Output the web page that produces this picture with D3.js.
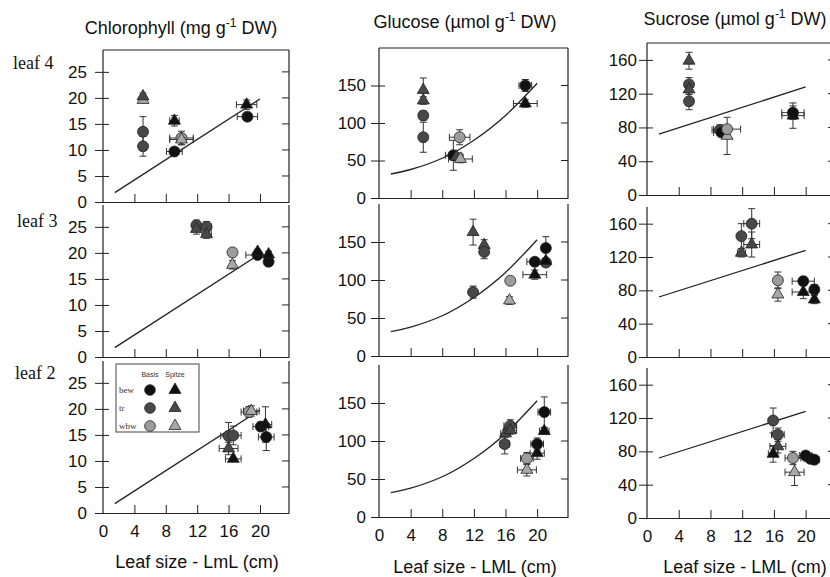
<!DOCTYPE html>
<html>
<head>
<meta charset="utf-8">
<script src="https://cdn.jsdelivr.net/npm/d3@7"></script>
<style>
  body { margin: 0; background: #fff; }
  svg { display: block; font-family: "Liberation Sans", Arial, sans-serif; }
</style>
</head>
<body>
<div id="chart"></div>
<script>
// SVG area
var svgWidth = 830;
var svgHeight = 577;

// Shared x ticks (leaf size, cm) and leaf names for the three rows
var xTicks = [0, 4, 8, 12, 16, 20];
var leafNames = ["leaf 4", "leaf 3", "leaf 2"];

// y ticks per variable
var chlTicks = [0, 5, 10, 15, 20, 25];
var gluTicks = [0, 50, 100, 150];
var sucTicks = [0, 40, 80, 120, 160];

// Fitted lines: [leaf size, value]
var chlFit = [[1.5, 1.8], [20, 19.8]];
var gluFit = [[1.5, 32], [4, 38], [8, 53], [12, 77], [16, 110], [20, 153]];
var sucFit = [[1.5, 72], [20, 128]];

// Points: [series, leaf size, value, x error, y error]
var chlLeaf4 = [
    ["wbwS", 5.1, 19.6, 0, 0.5], ["trS", 5.1, 20.3, 0, 0.6],
    ["trB", 5.1, 13.5, 0, 2.9], ["trB", 5.1, 10.7, 0, 1.9],
    ["bewB", 9.1, 9.7, 1.0, 0.5], ["bewS", 9.1, 15.6, 0.6, 1.0],
    ["wbwB", 10.0, 12.3, 1.5, 1.3], ["wbwS", 10.0, 12.0, 1.5, 1.0],
    ["bewS", 18.3, 18.7, 1.3, 0.9], ["bewB", 18.4, 16.4, 1.3, 0.6]
];
var chlLeaf3 = [
    ["trB", 11.9, 25.3, 0.5, 1.0], ["trS", 11.9, 24.6, 0.5, 1.0],
    ["trB", 13.2, 25.0, 0.6, 1.0], ["trS", 13.2, 23.6, 0.6, 0.8],
    ["wbwB", 16.5, 20.1, 0, 0.5], ["wbwS", 16.5, 17.7, 0, 0.8],
    ["bewB", 19.7, 19.6, 1.5, 0.6], ["bewS", 19.7, 20.2, 0, 0.5],
    ["bewB", 21.1, 18.3, 0, 0.7], ["bewS", 21.1, 19.7, 0, 0.6]
];
var chlLeaf2 = [
    ["trB", 16.0, 14.8, 1.0, 2.6], ["trB", 16.6, 14.9, 1.0, 1.8],
    ["trS", 16.0, 12.4, 1.2, 1.2], ["bewS", 16.6, 10.4, 1.0, 0],
    ["wbwB", 18.6, 19.4, 1.0, 1.0], ["wbwS", 18.9, 19.6, 1.0, 1.0],
    ["bewB", 20.1, 16.6, 1.0, 0.8], ["bewS", 20.7, 17.0, 0.8, 3.4],
    ["bewB", 20.8, 14.6, 1.0, 2.6]
];

var gluLeaf4 = [
    ["trS", 5.6, 144, 0, 16], ["trS", 5.6, 130, 0, 5],
    ["trB", 5.6, 110, 0, 6], ["trB", 5.6, 81, 0, 20],
    ["bewB", 9.4, 57, 1.0, 20], ["trS", 9.8, 55, 0.8, 5],
    ["wbwS", 10.3, 52, 1.5, 5], ["wbwB", 10.2, 81, 1.3, 10],
    ["bewS", 18.5, 126, 1.5, 5], ["bewB", 18.5, 150, 0.8, 8]
];
var gluLeaf3 = [
    ["trS", 11.9, 163, 0, 17], ["trB", 11.9, 84, 0, 8],
    ["trS", 13.3, 146, 0, 7], ["trB", 13.3, 137, 0, 9],
    ["wbwB", 16.6, 99, 0, 0], ["wbwS", 16.5, 73, 0, 5],
    ["bewB", 19.7, 124, 1.0, 0], ["bewS", 19.7, 107, 1.5, 6],
    ["bewB", 21.1, 142, 0, 15], ["trB", 21.1, 123, 0, 5], ["bewS", 21.1, 125, 0, 3]
];
var gluLeaf2 = [
    ["trB", 15.9, 96, 0.6, 13], ["trS", 16.0, 110, 0.6, 5],
    ["trB", 16.6, 120, 0.8, 8], ["trS", 16.6, 114, 0.8, 5],
    ["wbwB", 18.7, 77, 0.8, 8], ["wbwS", 18.7, 62, 1.2, 8],
    ["bewB", 20.0, 96, 0.8, 8], ["bewS", 20.0, 84, 0.9, 8],
    ["bewB", 20.9, 138, 0.8, 20], ["bewS", 20.9, 113, 0.6, 4]
];

var sucLeaf4 = [
    ["trS", 5.3, 159, 0, 10], ["trB", 5.3, 131, 0, 8],
    ["trS", 5.3, 125, 0, 6], ["trB", 5.3, 111, 0, 10],
    ["trB", 9.2, 77, 1.0, 6], ["bewB", 9.4, 74, 1.0, 5],
    ["wbwS", 10.1, 70, 0, 22], ["wbwB", 10.1, 78, 1.7, 0],
    ["bewS", 18.4, 94, 1.4, 15], ["bewB", 18.4, 97.5, 1.4, 8]
];
var sucLeaf3 = [
    ["trB", 11.9, 145, 0, 15], ["trS", 11.9, 125, 0.5, 5],
    ["trB", 13.2, 160, 1.0, 18], ["trS", 13.2, 135, 1.0, 15],
    ["wbwB", 16.5, 92, 0, 10], ["wbwS", 16.5, 75, 0, 8],
    ["bewB", 19.7, 91, 1.4, 5], ["bewS", 19.7, 78, 1.4, 8],
    ["bewB", 21.1, 81, 0, 6], ["bewS", 21.1, 69, 0, 5]
];
var sucLeaf2 = [
    ["trB", 15.9, 117, 0, 15], ["trB", 16.5, 100, 0.8, 8],
    ["trS", 16.5, 86, 1.0, 8], ["bewS", 15.9, 77, 0.6, 10],
    ["wbwB", 18.4, 72, 1.0, 8], ["wbwS", 18.6, 55, 1.2, 16],
    ["bewB", 20.0, 75, 0.8, 4], ["bewB", 20.6, 71, 0.8, 4],
    ["bewB", 21.1, 70, 0.6, 5]
];

// Series look (Basis = circle, Spitze = triangle)
var seriesStyle = {
    bewB: { shape: d3.symbolCircle, fill: "#111" },
    bewS: { shape: d3.symbolTriangle, fill: "#111" },
    trB: { shape: d3.symbolCircle, fill: "#484848" },
    trS: { shape: d3.symbolTriangle, fill: "#484848" },
    wbwB: { shape: d3.symbolCircle, fill: "#9c9c9c" },
    wbwS: { shape: d3.symbolTriangle, fill: "#a8a8a8" }
};

// Column setup (slightly different offsets per column, like the scan)
var columns = [
    { title: "Chlorophyll (mg g", xLabel: "Leaf size - LmL (cm)", ticks: chlTicks, yMax: 29.2,
      fit: chlFit, panels: [chlLeaf4, chlLeaf3, chlLeaf2], xMax: 23.7,
      left: 103, right: 289, rows: [[50, 202], [205, 357], [361, 513]],
      titleX: 181, titleY: 34, labelX: 197, labelY: 568, labelPad: 16 },
    { title: "Glucose (\u00b5mol g", xLabel: "Leaf size - LML (cm)", ticks: gluTicks, yMax: 200,
      fit: gluFit, panels: [gluLeaf4, gluLeaf3, gluLeaf2], xMax: 23.9,
      left: 379, right: 568, rows: [[48, 198], [204, 356], [365, 517]],
      titleX: 465, titleY: 28, labelX: 475, labelY: 573, labelPad: 13 },
    { title: "Sucrose (\u00b5mol g", xLabel: "Leaf size - LML (cm)", ticks: sucTicks, yMax: 180,
      fit: sucFit, panels: [sucLeaf4, sucLeaf3, sucLeaf2], xMax: 23.7,
      left: 647, right: 835, rows: [[43, 195], [207, 357], [368, 518]],
      titleX: 735, titleY: 25, labelX: 745, labelY: 573, labelPad: 10 }
];

var svg = d3.select("#chart")
    .append("svg")
    .attr("width", svgWidth)
    .attr("height", svgHeight);

var symbol = d3.symbol();

columns.forEach(function(col, c) {
    // Column title with superscript
    var title = svg.append("text")
        .attr("x", col.titleX)
        .attr("y", col.titleY)
        .attr("text-anchor", "middle")
        .attr("font-size", 18)
        .attr("fill", "#111");
    title.append("tspan").text(col.title);
    title.append("tspan").attr("dy", -7).attr("font-size", 12).text("-1");
    title.append("tspan").attr("dy", 7).text(" DW)");

    // x axis title
    svg.append("text")
        .attr("x", col.labelX)
        .attr("y", col.labelY)
        .attr("text-anchor", "middle")
        .attr("font-size", 18)
        .attr("fill", "#111")
        .text(col.xLabel);

    col.rows.forEach(function(row, r) {
        var top = row[0], bottom = row[1];
        var data = col.panels[r];

        var xScale = d3.scaleLinear().domain([0, col.xMax]).range([col.left, col.right]);
        var yScale = d3.scaleLinear().domain([0, col.yMax]).range([bottom, top]);

        var g = svg.append("g");

        // frame
        g.append("line").attr("x1", col.left).attr("x2", col.left).attr("y1", top).attr("y2", bottom)
            .attr("stroke", "#222").attr("stroke-width", 1.2);
        g.append("line").attr("x1", col.right).attr("x2", col.right).attr("y1", top).attr("y2", bottom)
            .attr("stroke", "#222").attr("stroke-width", 1.2);
        if (r === 0) {
            g.append("line").attr("x1", col.left).attr("x2", col.right).attr("y1", top).attr("y2", top)
                .attr("stroke", "#222").attr("stroke-width", 1.2);
        }

        // right-side inner ticks
        g.selectAll(".rtick")
            .data(col.ticks.filter(d => d > 0))
            .enter()
            .append("line")
            .attr("x1", col.right - 7)
            .attr("x2", col.right)
            .attr("y1", d => yScale(d))
            .attr("y2", d => yScale(d))
            .attr("stroke", "#222");

        // y axis
        var leftAxis = d3.axisLeft(yScale)
            .tickValues(col.ticks)
            .tickSizeOuter(0)
            .tickSizeInner(8)
            .tickPadding(col.labelPad - 8);
        var yAxis = g.append("g")
            .attr("transform", `translate(${col.left}, 0)`)
            .call(leftAxis);
        yAxis.select(".domain").remove();
        yAxis.selectAll(".tick line").attr("x1", 6).attr("stroke", "#222");
        yAxis.selectAll("text")
            .attr("font-size", 17)
            .attr("font-family", "Liberation Sans, Arial, sans-serif")
            .attr("fill", "#111");

        // x axis (ticks point up, labels only on bottom row)
        var bottomAxis = d3.axisBottom(xScale)
            .tickValues(xTicks)
            .tickSizeOuter(0)
            .tickSizeInner(0)
            .tickPadding(12)
            .tickFormat(d => r === 2 ? d : "");
        var xAxis = g.append("g")
            .attr("transform", `translate(0, ${bottom})`)
            .call(bottomAxis);
        xAxis.select(".domain").attr("stroke", "#222").attr("stroke-width", 1.2);
        xAxis.selectAll(".tick line")
            .attr("y2", d => d === 0 ? 0 : -8)
            .attr("stroke", "#222");
        xAxis.selectAll("text")
            .attr("font-size", 17)
            .attr("font-family", "Liberation Sans, Arial, sans-serif")
            .attr("fill", "#111");

        // fitted line
        var line = d3.line()
            .x(d => xScale(d[0]))
            .y(d => yScale(d[1]))
            .curve(d3.curveNatural);
        g.append("path")
            .datum(col.fit)
            .attr("d", line)
            .attr("fill", "none")
            .attr("stroke", "#222")
            .attr("stroke-width", 1.3);

        // error bars
        var errGroup = g.append("g").attr("stroke", "#333").attr("stroke-width", 1);
        data.forEach(function(d) {
            var px = xScale(d[1]), py = yScale(d[2]);
            if (d[3] > 0) {
                var x0 = xScale(d[1] - d[3]), x1 = xScale(d[1] + d[3]);
                errGroup.append("line").attr("x1", x0).attr("x2", x1).attr("y1", py).attr("y2", py);
                errGroup.append("line").attr("x1", x0).attr("x2", x0).attr("y1", py - 3.5).attr("y2", py + 3.5);
                errGroup.append("line").attr("x1", x1).attr("x2", x1).attr("y1", py - 3.5).attr("y2", py + 3.5);
            }
            if (d[4] > 0) {
                var y0 = yScale(d[2] - d[4]), y1 = yScale(d[2] + d[4]);
                errGroup.append("line").attr("x1", px).attr("x2", px).attr("y1", y0).attr("y2", y1);
                errGroup.append("line").attr("x1", px - 3.5).attr("x2", px + 3.5).attr("y1", y0).attr("y2", y0);
                errGroup.append("line").attr("x1", px - 3.5).attr("x2", px + 3.5).attr("y1", y1).attr("y2", y1);
            }
        });

        // markers
        g.selectAll(".pt")
            .data(data)
            .enter()
            .append("path")
            .attr("transform", d => `translate(${xScale(d[1])}, ${yScale(d[2])})`)
            .attr("d", d => symbol.type(seriesStyle[d[0]].shape).size(seriesStyle[d[0]].shape === d3.symbolCircle ? 95 : 62)())
            .attr("fill", d => seriesStyle[d[0]].fill)
            .attr("stroke", "#222")
            .attr("stroke-width", 0.8);

        // leaf name on the first column
        if (c === 0) {
            svg.append("text")
                .attr("x", 13 + (r === 1 ? 4 : r === 2 ? 2 : 0))
                .attr("y", [69, 227, 379][r])
                .attr("font-family", "Liberation Serif, Times New Roman, serif")
                .attr("font-size", 18)
                .attr("fill", "#111")
                .text(leafNames[r]);
        }
    });
});

// Legend in the bottom-left panel
var legendRows = ["bew", "tr", "wbw"];
var legend = svg.append("g");
legend.append("rect")
    .attr("x", 116).attr("y", 364).attr("width", 83).attr("height", 68)
    .attr("fill", "#fff").attr("stroke", "#444").attr("stroke-width", 1);
legend.append("text").attr("x", 150).attr("y", 377).attr("text-anchor", "middle")
    .attr("font-size", 7).attr("fill", "#333").text("Basis");
legend.append("text").attr("x", 175).attr("y", 377).attr("text-anchor", "middle")
    .attr("font-size", 7).attr("fill", "#333").text("Spitze");
legendRows.forEach(function(name, i) {
    var yy = 390 + i * 18;
    legend.append("text").attr("x", 119).attr("y", yy + 3)
        .attr("font-family", "Liberation Serif, serif")
        .attr("font-size", 9).attr("fill", "#333").text(name);
    legend.append("path")
        .attr("transform", `translate(150, ${yy})`)
        .attr("d", symbol.type(d3.symbolCircle).size(90)())
        .attr("fill", seriesStyle[name + "B"].fill).attr("stroke", "#222").attr("stroke-width", 0.8);
    legend.append("path")
        .attr("transform", `translate(175, ${yy})`)
        .attr("d", symbol.type(d3.symbolTriangle).size(62)())
        .attr("fill", seriesStyle[name + "S"].fill).attr("stroke", "#222").attr("stroke-width", 0.8);
});
</script>
</body>
</html>
